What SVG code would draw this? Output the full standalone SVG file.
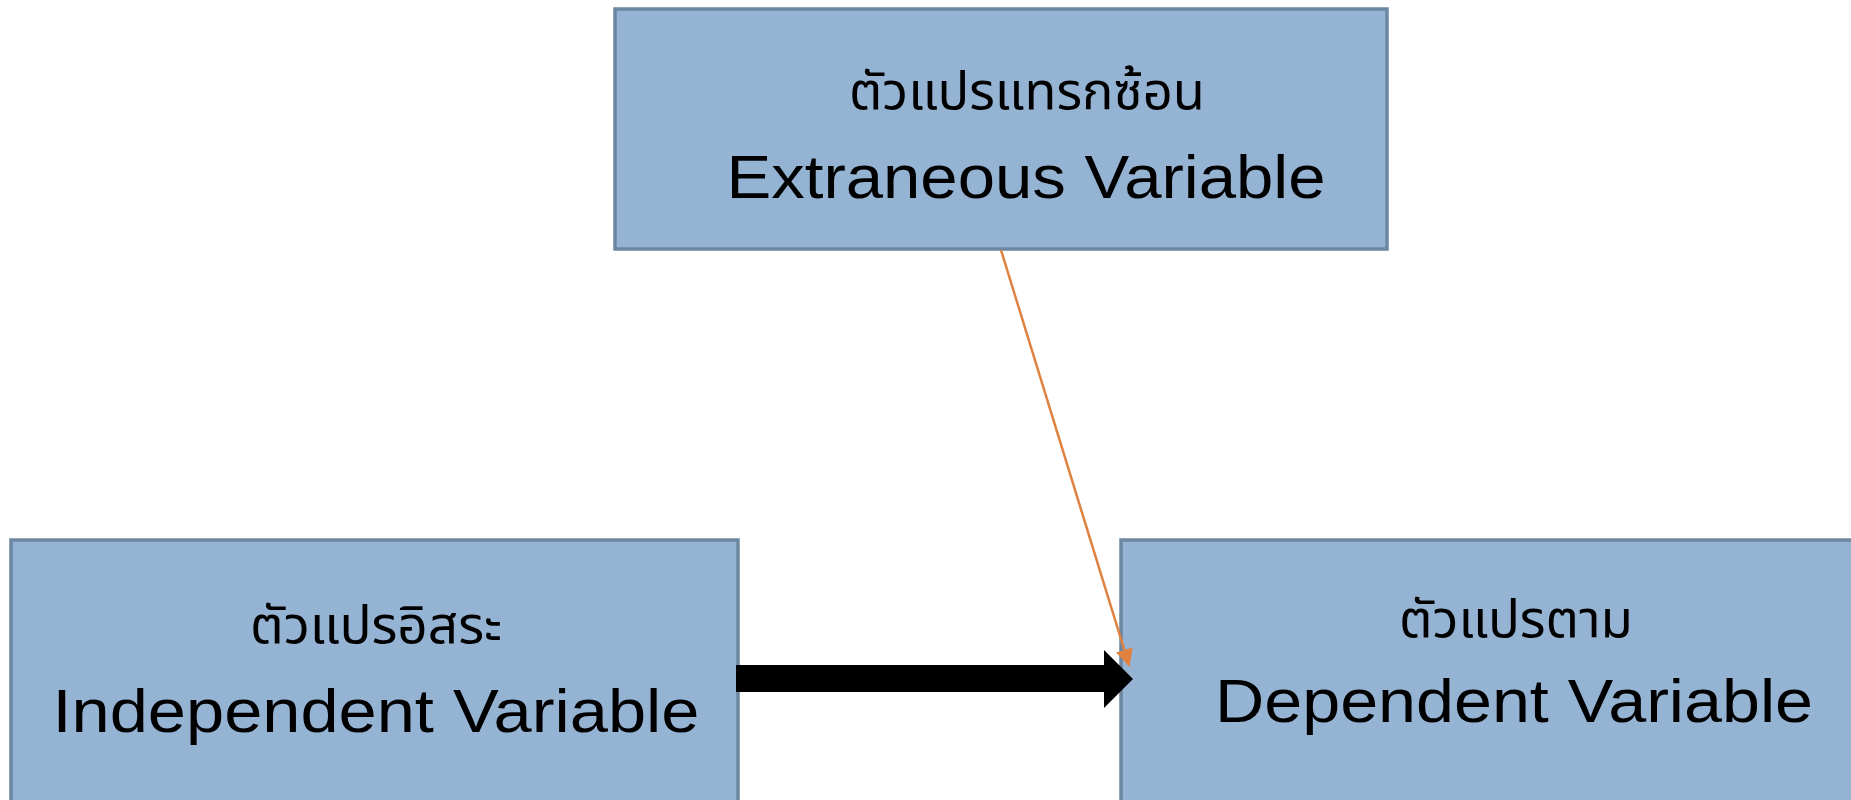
<svg xmlns="http://www.w3.org/2000/svg" width="1851" height="800" viewBox="0 0 1851 800">
<style>
.box{fill:#95b3d3;stroke:#6c87a1;stroke-width:3.5}
.th{font-family:"Noto Sans Thai","Noto Sans","DejaVu Sans",sans-serif;font-size:52px;fill:#000;text-anchor:middle}
.en{font-family:"Liberation Sans",Arial,sans-serif;font-size:62px;fill:#000;text-anchor:middle}
</style>
<defs>
<marker id="oh" viewBox="0 0 10 10" refX="9" refY="5" markerWidth="7" markerHeight="7" orient="auto" markerUnits="strokeWidth">
<path d="M0,0 L10,5 L0,10 z" fill="#e0813f"/>
</marker>
</defs>
<rect width="1851" height="800" fill="#fff"/>
<g id="extraneous">
<rect class="box" x="615" y="9" width="772" height="240"/>
<text class="th" x="1027" y="109" textLength="356" lengthAdjust="spacingAndGlyphs">ตัวแปรแทรกซ้อน</text>
<text class="en" x="1026" y="198" textLength="599" lengthAdjust="spacingAndGlyphs">Extraneous Variable</text>
</g>
<g id="independent">
<rect class="box" x="11" y="540" width="727" height="270"/>
<text class="th" x="376" y="643" textLength="252" lengthAdjust="spacingAndGlyphs">ตัวแปรอิสระ</text>
<text class="en" x="376" y="732" textLength="647" lengthAdjust="spacingAndGlyphs">Independent Variable</text>
</g>
<g id="dependent">
<rect class="box" x="1121" y="540" width="740" height="270"/>
<text class="th" x="1516" y="637" textLength="234" lengthAdjust="spacingAndGlyphs">ตัวแปรตาม</text>
<text class="en" x="1514" y="722" textLength="598" lengthAdjust="spacingAndGlyphs">Dependent Variable</text>
</g>
<g id="connectors">
<path d="M736,665 L1104,665 L1104,650 L1133,679 L1104,708 L1104,692 L736,692 Z" fill="#000"/>
<line x1="1001" y1="250" x2="1129" y2="665" stroke="#e0813f" stroke-width="2.5" marker-end="url(#oh)"/>
</g>
</svg>
